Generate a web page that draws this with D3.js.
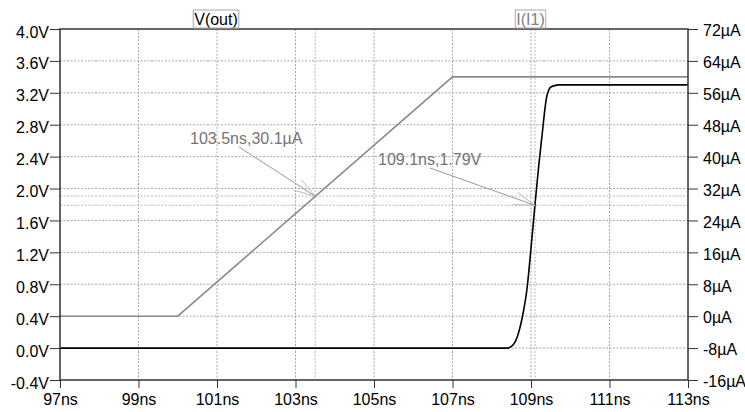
<!DOCTYPE html>
<html>
<head>
<meta charset="utf-8">
<script src="https://cdn.jsdelivr.net/npm/d3@7"></script>
<style>
  body { margin: 0; background: #fff; }
  text { font-family: "Liberation Sans", Arial, sans-serif; }
</style>
</head>
<body>
<div id="chart"></div>
<script>
// time axis (ns)
const timeTicks = [97, 99, 101, 103, 105, 107, 109, 111, 113];
const voltTicks = [-0.4, 0.0, 0.4, 0.8, 1.2, 1.6, 2.0, 2.4, 2.8, 3.2, 3.6, 4.0];
const currTicks = [-16, -8, 0, 8, 16, 24, 32, 40, 48, 56, 64, 72];
const gridTimes = [99, 101, 103, 105, 107, 109, 111];

// V(out) trace, black
const voutT = [97, 108.4, 108.5, 108.6, 108.7, 108.8, 108.9, 109.0, 109.1, 109.2, 109.3, 109.35, 109.4, 109.45, 109.5, 109.6, 109.7, 113];
const voutV = [0, 0, 0.02, 0.08, 0.22, 0.44, 0.75, 1.25, 1.79, 2.3, 2.75, 2.98, 3.15, 3.23, 3.27, 3.29, 3.30, 3.30];

// I(I1) trace, gray (µA)
const iT = [97, 100, 107, 113];
const iA = [0, 0, 60, 60];

// cursors
const cursorTimes = [103.5, 109.1];
const cursorCurr = 30.1;
const cursorVolt = 1.79;
const cursorLabels = ["103.5ns,30.1µA", "109.1ns,1.79V"];

const W = 745, H = 412;
const m = { left: 60, right: 688, top: 29, bottom: 380 };

const svg = d3.select("#chart").append("svg")
  .attr("width", W).attr("height", H);

const x = d3.scaleLinear().domain([97, 113]).range([m.left, m.right]);
const yV = d3.scaleLinear().domain([-0.4, 4.0]).range([m.bottom, m.top]);
const yI = d3.scaleLinear().domain([-16, 72]).range([m.bottom, m.top]);

const gridColor = "#a8a8a8";

// grid
svg.append("g").selectAll("line")
  .data(voltTicks.slice(1, -1))
  .enter().append("line")
  .attr("x1", m.left).attr("x2", m.right)
  .attr("y1", d => yV(d)).attr("y2", d => yV(d))
  .attr("stroke", gridColor).attr("stroke-dasharray", "2,1.5");

svg.append("g").selectAll("line")
  .data(gridTimes)
  .enter().append("line")
  .attr("x1", d => x(d)).attr("x2", d => x(d))
  .attr("y1", m.top).attr("y2", m.bottom)
  .attr("stroke", gridColor).attr("stroke-dasharray", "2,1.5");

// cursor lines
svg.append("g").selectAll("line")
  .data(cursorTimes)
  .enter().append("line")
  .attr("x1", d => x(d)).attr("x2", d => x(d))
  .attr("y1", m.top).attr("y2", m.bottom)
  .attr("stroke", "#b8b8b8").attr("stroke-dasharray", "2,1.5");

svg.append("line")
  .attr("x1", m.left).attr("x2", m.right)
  .attr("y1", yI(cursorCurr)).attr("y2", yI(cursorCurr))
  .attr("stroke", "#b8b8b8").attr("stroke-dasharray", "2,1.5");

svg.append("line")
  .attr("x1", m.left).attr("x2", m.right)
  .attr("y1", yV(cursorVolt)).attr("y2", yV(cursorVolt))
  .attr("stroke", "#b8b8b8").attr("stroke-dasharray", "2,1.5");

// traces
const lineI = d3.line().x((d, i) => x(iT[i])).y(d => yI(d));
svg.append("path")
  .attr("d", lineI(iA))
  .attr("fill", "none").attr("stroke", "#8a8a8a").attr("stroke-width", 1.6);

const lineV = d3.line().curve(d3.curveMonotoneX).x((d, i) => x(voutT[i])).y(d => yV(d));
svg.append("path")
  .attr("d", lineV(voutV))
  .attr("fill", "none").attr("stroke", "#000").attr("stroke-width", 1.6);

// frame
svg.append("rect")
  .attr("x", m.left).attr("y", m.top)
  .attr("width", m.right - m.left).attr("height", m.bottom - m.top)
  .attr("fill", "none").attr("stroke", "#333").attr("stroke-width", 1.5);

// axes
const fontSize = "16px";
const xAxis = svg.append("g")
  .attr("transform", `translate(0,${m.bottom})`)
  .call(d3.axisBottom(x).tickValues(timeTicks).tickFormat(d => d + "ns").tickSize(8).tickPadding(6));
const yAxisL = svg.append("g")
  .attr("transform", `translate(${m.left},0)`)
  .call(d3.axisLeft(yV).tickValues(voltTicks).tickFormat(d => d.toFixed(1) + "V").tickSize(10).tickPadding(1));
const yAxisR = svg.append("g")
  .attr("transform", `translate(${m.right},0)`)
  .call(d3.axisRight(yI).tickValues(currTicks).tickFormat(d => d + "µA").tickSize(10).tickPadding(5));

[xAxis, yAxisL, yAxisR].forEach(a => {
  a.select(".domain").remove();
  a.selectAll("text").attr("font-size", fontSize).attr("fill", "#000")
    .style("font-family", "'Liberation Sans', Arial, sans-serif");
  a.selectAll("line").attr("stroke", "#333");
});
yAxisL.selectAll("text").attr("dy", "0.5em");
yAxisR.selectAll("text").attr("dy", "0.42em");

// trace labels
const legends = [
  { name: "V(out)", cx: 216, color: "#000" },
  { name: "I(I1)", cx: 530.5, color: "#808080" }
];
legends.forEach(l => {
  const t = svg.append("text")
    .attr("x", l.cx).attr("y", 25)
    .attr("text-anchor", "middle")
    .attr("font-size", fontSize)
    .attr("fill", l.color)
    .text(l.name);
  const b = t.node().getBBox();
  svg.append("rect")
    .attr("x", b.x - 1).attr("y", 10)
    .attr("width", b.width + 2).attr("height", 18)
    .attr("fill", "none").attr("stroke", "#aaa");
});

// cursor annotations
const annos = [
  { label: cursorLabels[0], tx: 190, ty: 144, sx: 239, sy: 147, px: x(cursorTimes[0]), py: yI(cursorCurr) },
  { label: cursorLabels[1], tx: 378, ty: 165, sx: 430, sy: 168, px: x(cursorTimes[1]), py: yV(cursorVolt) }
];
annos.forEach(a => {
  svg.append("text")
    .attr("x", a.tx).attr("y", a.ty)
    .attr("font-size", "16px")
    .attr("fill", "#747474")
    .text(a.label);
  svg.append("line")
    .attr("x1", a.sx).attr("y1", a.sy).attr("x2", a.px).attr("y2", a.py)
    .attr("stroke", "#999").attr("stroke-width", 1);
  const ang = Math.atan2(a.sy - a.py, a.sx - a.px);
  [-0.3, 0.3].forEach(da => {
    svg.append("line")
      .attr("x1", a.px).attr("y1", a.py)
      .attr("x2", a.px + 22 * Math.cos(ang + da))
      .attr("y2", a.py + 22 * Math.sin(ang + da))
      .attr("stroke", "#bbb").attr("stroke-width", 1);
  });
});
</script>
</body>
</html>
